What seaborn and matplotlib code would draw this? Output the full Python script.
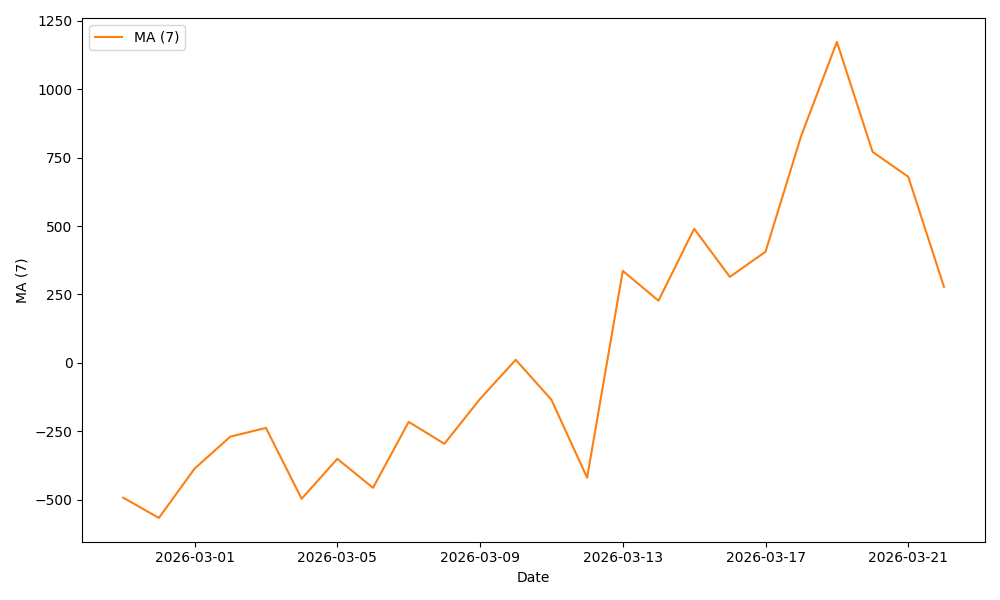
import pandas as pd
import seaborn as sns
import matplotlib.pyplot as plt
import matplotlib.dates as mdates

dates = pd.date_range("2026-02-27", "2026-03-22", freq="D")
ma7 = [-493, -567, -387, -270, -238, -497, -351, -457, -216, -296, -132, 11,
       -135, -420, 336, 227, 490, 314, 406, 830, 1173, 771, 680, 278]

data = pd.DataFrame({"Date": dates, "MA (7)": ma7})

fig, ax = plt.subplots(figsize=(10, 6), dpi=100)
sns.lineplot(data=data, x="Date", y="MA (7)", color="#ff7f0e", label="MA (7)", ax=ax)
ax.xaxis.set_major_locator(mdates.DayLocator(bymonthday=[1, 5, 9, 13, 17, 21]))
ax.xaxis.set_major_formatter(mdates.DateFormatter("%Y-%m-%d"))
ax.set_yticks([-500, -250, 0, 250, 500, 750, 1000, 1250])
ax.legend(loc="upper left")
plt.tight_layout()
plt.savefig("out.png")
